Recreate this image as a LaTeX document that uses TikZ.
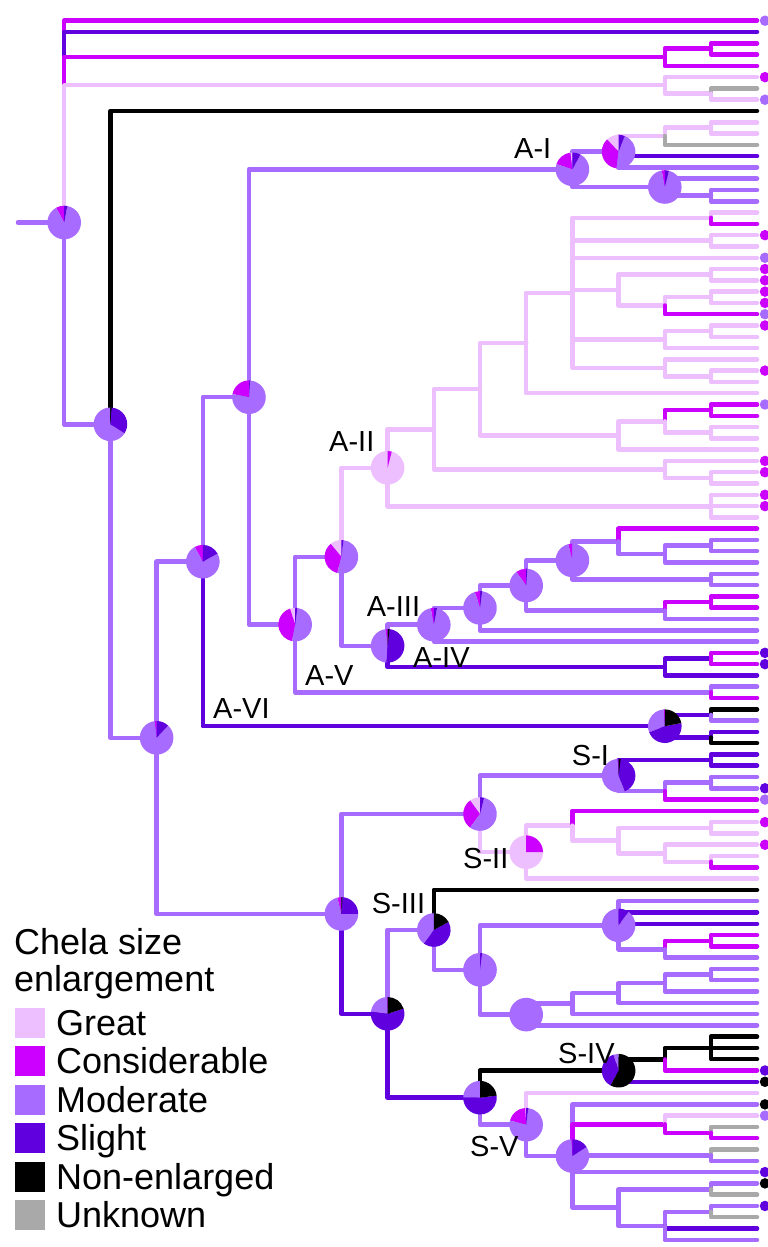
\documentclass[tikz,border=0pt]{standalone}
\usepackage{fontspec}
\setmainfont{Liberation Sans}
\definecolor{great}{HTML}{EEBFFF}
\definecolor{consid}{HTML}{CC00FF}
\definecolor{moder}{HTML}{A86BFF}
\definecolor{slight}{HTML}{6100DF}
\definecolor{nonenl}{HTML}{000000}
\definecolor{unk}{HTML}{A9A9A9}
\tikzset{
  branch/.style={line width=4.5pt, line cap=round, line join=round},
  brG/.style={branch, draw=great},
  brC/.style={branch, draw=consid},
  brM/.style={branch, draw=moder},
  brS/.style={branch, draw=slight},
  brN/.style={branch, draw=nonenl},
  brU/.style={branch, draw=unk},
  tipdot/.style={circle, inner sep=0pt, minimum size=10.5pt, xshift=8pt},
  clade/.style={inner sep=0pt, anchor=base west, font=\fontsize{29}{29}\selectfont},
  legsq/.style={inner sep=0pt, minimum size=30pt},
  legtxt/.style={inner sep=0pt, anchor=base west, font=\fontsize{36}{36}\selectfont}
}
% one branch: vertical at the parent, then horizontal to the child
\newcommand\br[3]{\draw[br#1] (#2) |- (#3);}
% ancestral state pie, shares in the order great, considerable, moderate, slight, non-enlarged, unknown
\def\pierad{16.8}
\newcommand\pieslice[3]{%
  \ifdim\dimexpr#2pt-#1pt\relax>0.05pt
    \fill[#3] (0,0) -- (#1:\pierad pt) arc[start angle=#1, end angle=#2, radius=\pierad pt] -- cycle;
  \fi}
\newcommand\chelapie[7]{%
  \begin{scope}[shift={(#1)}]
    \pgfmathsetmacro\pa{90}
    \pgfmathsetmacro\pb{\pa+360*#2}
    \pgfmathsetmacro\pc{\pb+360*#3}
    \pgfmathsetmacro\pd{\pc+360*#4}
    \pgfmathsetmacro\pe{\pd+360*#5}
    \pgfmathsetmacro\pf{\pe+360*#6}
    \pgfmathsetmacro\pg{\pf+360*#7}
    \pieslice{\pa}{\pb}{great}
    \pieslice{\pb}{\pc}{consid}
    \pieslice{\pc}{\pd}{moder}
    \pieslice{\pd}{\pe}{slight}
    \pieslice{\pe}{\pf}{nonenl}
    \pieslice{\pf}{\pg}{unk}
  \end{scope}}
\begin{document}
\begin{tikzpicture}[x=1pt, y=-1pt]
\useasboundingbox (0,0) rectangle (768,1247);
\fill[white] (0,0) rectangle (768,1247);

% tips
\foreach \i in {0,...,108} { \coordinate (t\i) at (757,{20.7+11.288*\i}); }

% internal nodes
\coordinate (stem) at (18,222.5);
\coordinate (r0) at (64.2,222.5);
\coordinate (na) at (664.8,56.8);
\coordinate (nb) at (711,48.35);
\coordinate (nc) at (664.8,85.2);
\coordinate (nd) at (711,93.65);
\coordinate (n110) at (110.4,424.3);
\coordinate (n156) at (156.6,737.8);
\coordinate (n203) at (202.8,561.7);
\coordinate (n249) at (249,397.2);
\coordinate (nA1) at (572.4,169.3);
\coordinate (n618a) at (618.6,151.65);
\coordinate (n665b) at (664.8,136.1);
\coordinate (n711a) at (711,127.65);
\coordinate (n665a) at (664.8,186.98);
\coordinate (n711b) at (711,195.45);
\coordinate (nA5) at (295.2,624.6);
\coordinate (n711c) at (711,692.35);
\coordinate (n341) at (341.4,556.8);
\coordinate (nA2) at (387.6,467.8);
\coordinate (n711e) at (711,506.3);
\coordinate (n434a) at (433.8,429.4);
\coordinate (n480a) at (480,389.2);
\coordinate (n665c) at (664.8,469.5);
\coordinate (n711f) at (711,478);
\coordinate (n526a) at (526.2,342.9);
\coordinate (n618b) at (618.6,435.5);
\coordinate (n572a) at (572.4,292.8);
\coordinate (n711g) at (711,217.8);
\coordinate (n711h) at (711,240.35);
\coordinate (n618c) at (618.6,289.9);
\coordinate (n711i) at (711,274.35);
\coordinate (n665d) at (664.8,305.5);
\coordinate (n711j) at (711,297);
\coordinate (n665e) at (664.8,339.5);
\coordinate (n711k) at (711,331);
\coordinate (n665f) at (664.8,367.8);
\coordinate (n711l) at (711,376.35);
\coordinate (n665g) at (664.8,421.3);
\coordinate (n711m) at (711,410);
\coordinate (n711n) at (711,432.65);
\coordinate (nA4) at (387.6,645.8);
\coordinate (n665h) at (664.8,666.9);
\coordinate (n711o) at (711,658.5);
\coordinate (n434b) at (433.8,624.7);
\coordinate (n480b) at (480,607.9);
\coordinate (n526b) at (526.2,585.5);
\coordinate (n665i) at (664.8,610.5);
\coordinate (n711p) at (711,602.05);
\coordinate (n572b) at (572.4,560.4);
\coordinate (n618d) at (618.6,541.4);
\coordinate (n665j) at (664.8,554.1);
\coordinate (n711r) at (711,545.6);
\coordinate (n711q) at (711,579.45);
\coordinate (nA6) at (664.8,726.2);
\coordinate (n711s) at (711,714.95);
\coordinate (n711t) at (711,737.55);
\coordinate (n341s) at (341.4,913.9);
\coordinate (n480c) at (480,814);
\coordinate (nS1) at (618.6,775.7);
\coordinate (n711u) at (711,760.15);
\coordinate (n665k) at (664.8,791.2);
\coordinate (n711v) at (711,782.7);
\coordinate (nS2) at (526.2,852.2);
\coordinate (n572c) at (572.4,825.7);
\coordinate (n618e) at (618.6,840.6);
\coordinate (n711w) at (711,827.85);
\coordinate (n665l) at (664.8,853.3);
\coordinate (n711x) at (711,861.75);
\coordinate (n388) at (387.6,1013.8);
\coordinate (nS3) at (433.8,930);
\coordinate (n480e) at (480,969.8);
\coordinate (n618f) at (618.6,925.3);
\coordinate (n665m) at (664.8,949.3);
\coordinate (n711y) at (711,940.8);
\coordinate (n526c) at (526.2,1014.6);
\coordinate (n572d) at (572.4,1003.6);
\coordinate (n618g) at (618.6,993);
\coordinate (n665n) at (664.8,983.1);
\coordinate (n711z) at (711,974.65);
\coordinate (n480d) at (480,1097.7);
\coordinate (nS4) at (618.6,1070.7);
\coordinate (n665o) at (664.8,1059.4);
\coordinate (n711aa) at (711,1048.1);
\coordinate (nS5) at (526.2,1124.7);
\coordinate (n572e) at (572.4,1156);
\coordinate (n665p) at (664.8,1124.3);
\coordinate (n711bb) at (711,1132.75);
\coordinate (n711cc) at (711,1155.35);
\coordinate (n618h) at (618.6,1207.6);
\coordinate (n711dd) at (711,1189.25);
\coordinate (n665q) at (664.8,1226);
\coordinate (n711ee) at (711,1211.85);

% root and backbone
\br{M}{stem}{r0}
\br{C}{r0}{t0}
\br{S}{r0}{t1}
\br{C}{r0}{na}
\br{G}{r0}{nc}
\br{M}{r0}{n110}
\br{C}{na}{nb} \br{C}{nb}{t2} \br{C}{nb}{t3} \br{C}{na}{t4}
\br{G}{nc}{t5} \br{G}{nc}{nd} \br{U}{nd}{t6} \br{G}{nd}{t7}
\br{N}{n110}{t8}
\br{M}{n110}{n156}
\br{M}{n156}{n203} \br{M}{n156}{n341s}
\br{M}{n203}{n249} \br{S}{n203}{nA6}
\br{M}{n249}{nA1} \br{M}{n249}{nA5}

% A-I
\br{M}{nA1}{n618a} \br{M}{nA1}{n665a}
\br{G}{n618a}{n665b} \br{S}{n618a}{t12} \br{M}{n618a}{t13}
\br{G}{n665b}{n711a} \br{U}{n665b}{t11}
\br{G}{n711a}{t9} \br{G}{n711a}{t10}
\br{M}{n665a}{t14} \br{M}{n665a}{n711b} \br{M}{n711b}{t15} \br{M}{n711b}{t16}

% A-V
\br{M}{nA5}{n341} \br{M}{nA5}{n711c} \br{M}{n711c}{t59} \br{C}{n711c}{t60}
\br{G}{n341}{nA2} \br{M}{n341}{nA4}

% A-II
\br{G}{nA2}{n434a} \br{G}{nA2}{n711e}
\br{G}{n711e}{t42} \br{G}{n711e}{t43} \br{G}{n711e}{t44}
\br{G}{n434a}{n480a} \br{G}{n434a}{n665c}
\br{G}{n665c}{t39} \br{G}{n665c}{n711f} \br{G}{n711f}{t40} \br{G}{n711f}{t41}
\br{G}{n480a}{n526a} \br{G}{n480a}{n618b}
\br{G}{n526a}{n572a} \br{G}{n526a}{t33}
\br{G}{n572a}{n711g} \br{G}{n711g}{t17} \br{C}{n711g}{t18}
\br{G}{n572a}{n711h} \br{G}{n711h}{t19} \br{G}{n711h}{t20}
\br{G}{n572a}{t21}
\br{G}{n572a}{n618c} \br{G}{n618c}{n711i} \br{G}{n711i}{t22} \br{G}{n711i}{t23}
\br{G}{n618c}{n665d} \br{G}{n665d}{n711j} \br{G}{n711j}{t24} \br{G}{n711j}{t25} \br{C}{n665d}{t26}
\br{G}{n572a}{n665e} \br{G}{n665e}{n711k} \br{G}{n711k}{t27} \br{G}{n711k}{t28} \br{G}{n665e}{t29}
\br{G}{n572a}{n665f} \br{G}{n665f}{t30} \br{G}{n665f}{n711l} \br{G}{n711l}{t31} \br{G}{n711l}{t32}
\br{G}{n618b}{n665g} \br{C}{n665g}{n711m} \br{C}{n711m}{t34} \br{C}{n711m}{t35}
\br{G}{n665g}{n711n} \br{G}{n711n}{t36} \br{G}{n711n}{t37}
\br{G}{n618b}{t38}

% A-III / A-IV
\br{M}{nA4}{n434b} \br{S}{nA4}{n665h}
\br{S}{n665h}{n711o} \br{C}{n711o}{t56} \br{C}{n711o}{t57} \br{S}{n665h}{t58}
\br{M}{n434b}{n480b} \br{M}{n434b}{t55}
\br{M}{n480b}{n526b} \br{M}{n480b}{t54}
\br{M}{n526b}{n572b} \br{M}{n526b}{n665i}
\br{C}{n665i}{n711p} \br{C}{n711p}{t51} \br{C}{n711p}{t52} \br{M}{n665i}{t53}
\br{M}{n572b}{n618d} \br{M}{n572b}{n711q} \br{M}{n711q}{t49} \br{M}{n711q}{t50}
\br{C}{n618d}{t45} \br{M}{n618d}{n665j} \br{M}{n665j}{n711r}
\br{M}{n711r}{t46} \br{M}{n711r}{t47} \br{M}{n665j}{t48}

% A-VI
\br{S}{nA6}{n711s} \br{N}{n711s}{t61} \br{M}{n711s}{t62}
\br{S}{nA6}{n711t} \br{S}{n711t}{t63} \br{N}{n711t}{t64}

% S clades
\br{M}{n341s}{n480c} \br{S}{n341s}{n388}
\br{M}{n480c}{nS1} \br{G}{n480c}{nS2}
\br{S}{nS1}{n711u} \br{S}{n711u}{t65} \br{S}{n711u}{t66}
\br{M}{nS1}{n665k} \br{M}{n665k}{n711v} \br{M}{n711v}{t67} \br{M}{n711v}{t68} \br{C}{n665k}{t69}
\br{G}{nS2}{n572c} \br{G}{nS2}{t76}
\br{C}{n572c}{t70} \br{G}{n572c}{n618e}
\br{G}{n618e}{n711w} \br{G}{n711w}{t71} \br{G}{n711w}{t72}
\br{G}{n618e}{n665l} \br{G}{n665l}{t73} \br{G}{n665l}{n711x} \br{G}{n711x}{t74} \br{C}{n711x}{t75}
\br{M}{n388}{nS3} \br{S}{n388}{n480d}
\br{N}{nS3}{t77} \br{M}{nS3}{n480e}
\br{M}{n480e}{n618f} \br{M}{n480e}{n526c}
\br{M}{n618f}{t78} \br{S}{n618f}{t79} \br{S}{n618f}{t80} \br{M}{n618f}{n665m}
\br{C}{n665m}{n711y} \br{C}{n711y}{t81} \br{C}{n711y}{t82} \br{M}{n665m}{t83}
\br{M}{n526c}{n572d} \br{M}{n526c}{t89}
\br{M}{n572d}{n618g} \br{M}{n572d}{t88}
\br{M}{n618g}{n665n} \br{M}{n618g}{t87}
\br{M}{n665n}{n711z} \br{M}{n711z}{t84} \br{M}{n711z}{t85} \br{M}{n665n}{t86}
\br{N}{n480d}{nS4} \br{M}{n480d}{nS5}
\br{N}{nS4}{n665o} \br{S}{nS4}{t94}
\br{N}{n665o}{n711aa} \br{N}{n711aa}{t90} \br{N}{n711aa}{t91} \br{N}{n711aa}{t92} \br{C}{n665o}{t93}
\br{G}{nS5}{t95} \br{M}{nS5}{n572e}
\br{M}{n572e}{t96} \br{C}{n572e}{n665p} \br{M}{n572e}{n711cc} \br{M}{n572e}{t102} \br{M}{n572e}{n618h}
\br{G}{n665p}{t97} \br{C}{n665p}{n711bb} \br{U}{n711bb}{t98} \br{C}{n711bb}{t99}
\br{U}{n711cc}{t100} \br{M}{n711cc}{t101}
\br{M}{n618h}{n711dd} \br{M}{n711dd}{t103} \br{U}{n711dd}{t104}
\br{M}{n618h}{n665q} \br{M}{n665q}{n711ee} \br{M}{n711ee}{t105} \br{U}{n711ee}{t106}
\br{S}{n665q}{t107} \br{M}{n665q}{t108}

% ancestral state pies
\chelapie{r0}{0}{.08}{.89}{.03}{0}{0}
\chelapie{n110}{0}{0}{.66}{.33}{.01}{0}
\chelapie{n156}{0}{.02}{.86}{.12}{0}{0}
\chelapie{n203}{0}{.08}{.75}{.17}{0}{0}
\chelapie{n249}{0}{.22}{.77}{.01}{0}{0}
\chelapie{nA1}{.02}{.18}{.72}{.08}{0}{0}
\chelapie{n618a}{.12}{.36}{.46}{.06}{0}{0}
\chelapie{n665a}{0}{.03}{.93}{.04}{0}{0}
\chelapie{nA5}{.05}{.42}{.51}{.02}{0}{0}
\chelapie{n341}{.11}{.35}{.52}{.02}{0}{0}
\chelapie{nA2}{.96}{.04}{0}{0}{0}{0}
\chelapie{nA4}{0}{.02}{.47}{.49}{.02}{0}
\chelapie{n434b}{0}{.03}{.94}{.03}{0}{0}
\chelapie{n480b}{0}{.05}{.93}{.02}{0}{0}
\chelapie{n526b}{0}{.10}{.89}{.01}{0}{0}
\chelapie{n572b}{0}{.04}{.96}{0}{0}{0}
\chelapie{nA6}{0}{.01}{.30}{.47}{.22}{0}
\chelapie{n341s}{0}{.04}{.71}{.24}{.01}{0}
\chelapie{n480c}{.10}{.30}{.56}{.04}{0}{0}
\chelapie{nS1}{0}{.01}{.55}{.42}{.02}{0}
\chelapie{nS2}{.75}{.25}{0}{0}{0}{0}
\chelapie{nS3}{0}{0}{.40}{.43}{.17}{0}
\chelapie{n388}{0}{.01}{.22}{.57}{.20}{0}
\chelapie{n480e}{0}{0}{.98}{.02}{0}{0}
\chelapie{n618f}{0}{0}{.90}{.10}{0}{0}
\chelapie{n526c}{0}{0}{1}{0}{0}{0}
\chelapie{n480d}{0}{0}{.25}{.52}{.23}{0}
\chelapie{nS4}{0}{0}{.05}{.37}{.58}{0}
\chelapie{nS5}{.01}{.20}{.77}{.02}{0}{0}
\chelapie{n572e}{0}{.01}{.83}{.16}{0}{0}

% tip markers
\foreach \i/\c in {0/moder,5/consid,7/moder,19/consid,21/moder,22/consid,23/consid,
  24/consid,25/consid,26/moder,27/consid,31/consid,34/moder,39/consid,40/consid,
  42/consid,43/consid,56/slight,57/slight,68/slight,69/moder,71/consid,73/consid,
  93/slight,94/nonenl,96/nonenl,97/moder,102/slight,103/nonenl,105/slight}
  { \node[tipdot, fill=\c] (d\i) at (t\i) {}; }

% clade labels
\node[clade] (lA1) at (514,158.3) {A-I};
\node[clade] (lA2) at (329,451) {A-II};
\node[clade] (lA3) at (366.7,616.7) {A-III};
\node[clade] (lA4) at (413,667) {A-IV};
\node[clade] (lA5) at (305,685.7) {A-V};
\node[clade] (lA6) at (213,718.3) {A-VI};
\node[clade] (lS1) at (571.7,765) {S-I};
\node[clade] (lS2) at (463,868) {S-II};
\node[clade] (lS3) at (371.7,913.3) {S-III};
\node[clade] (lS4) at (558,1063) {S-IV};
\node[clade] (lS5) at (470,1156.7) {S-V};

% legend
\node[legtxt] (title1) at (14,954) {Chela size};
\node[legtxt] (title2) at (14,991) {enlargement};
\foreach \k/\c/\t in {0/great/Great,1/consid/Considerable,2/moder/Moderate,
  3/slight/Slight,4/nonenl/Non-enlarged,5/unk/Unknown}
{
  \node[legsq, fill=\c] (sq\k) at (30,{1023+38.45*\k}) {};
  \node[legtxt] (lt\k) at (56,{1035.5+38.45*\k}) {\t};
}
\end{tikzpicture}
\end{document}
